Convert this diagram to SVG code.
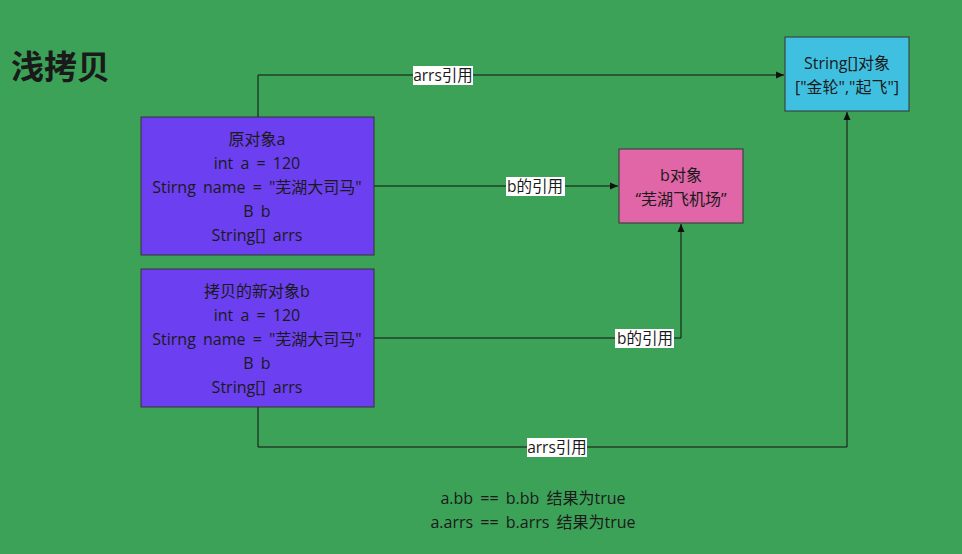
<svg xmlns="http://www.w3.org/2000/svg" width="962" height="554" viewBox="0 0 962 554">
<defs>
<marker id="arr" markerWidth="10" markerHeight="10" refX="9" refY="5" orient="auto" markerUnits="userSpaceOnUse">
<path d="M1,1.5 L9,5 L1,8.5 Z" fill="#111"/>
</marker>
<style>
text{font-family:"Open Sans","Noto Sans CJK SC",sans-serif;fill:#1a1a1a;text-anchor:middle;dominant-baseline:central}
.t{font-size:16px;word-spacing:3px}
.n{stroke:#333;stroke-width:1}
.c{fill:none;stroke:#111;stroke-width:1}
.lb{fill:#fff}
.l{font-size:15.5px}
</style>
</defs>
<rect width="962" height="554" fill="#3ca258"/>
<text x="11" y="65" style="font-family:'Noto Sans CJK SC',sans-serif;font-size:33px;font-weight:bold;text-anchor:start">浅拷贝</text>
<g id="connectors">
<path class="c" d="M258,117 V75 H784" marker-end="url(#arr)"/>
<path class="c" d="M374,186 H618" marker-end="url(#arr)"/>
<path class="c" d="M374,338 H681 V224" marker-end="url(#arr)"/>
<path class="c" d="M258,407 V447 H847 V112" marker-end="url(#arr)"/>
<rect class="lb" x="413" y="66" width="60" height="19"/>
<text class="l" x="443" y="75">arrs引用</text>
<rect class="lb" x="506" y="177" width="59" height="19"/>
<text class="l" x="535" y="186">b的引用</text>
<rect class="lb" x="615" y="329" width="59" height="19"/>
<text class="l" x="645" y="338">b的引用</text>
<rect class="lb" x="527" y="438" width="60" height="19"/>
<text class="l" x="557" y="447">arrs引用</text>
</g>
<g id="objA">
<rect class="n" x="141" y="117" width="233" height="138" fill="#6c40f0"/>
<text class="t" x="257" y="139">原对象a</text>
<text class="t" x="257" y="163">int a = 120</text>
<text class="t" x="257" y="187">Stirng name = "芜湖大司马"</text>
<text class="t" x="257" y="211">B b</text>
<text class="t" x="257" y="235">String[] arrs</text>
</g>
<g id="objB">
<rect class="n" x="141" y="269" width="233" height="138" fill="#6c40f0"/>
<text class="t" x="257" y="291">拷贝的新对象b</text>
<text class="t" x="257" y="315">int a = 120</text>
<text class="t" x="257" y="339">Stirng name = "芜湖大司马"</text>
<text class="t" x="257" y="363">B b</text>
<text class="t" x="257" y="387">String[] arrs</text>
</g>
<g id="bObj">
<rect class="n" x="619" y="149" width="124" height="74" fill="#e066a8"/>
<text class="t" x="681" y="175">b对象</text>
<text class="t" x="681" y="199">“芜湖飞机场”</text>
</g>
<g id="arrObj">
<rect class="n" x="785" y="37" width="124" height="74" fill="#40c0e0"/>
<text class="t" x="847" y="63">String[]对象</text>
<text class="t" x="847" y="87">["金轮","起飞"]</text>
</g>
<g id="note">
<text class="t" x="533" y="498">a.bb == b.bb 结果为true</text>
<text class="t" x="533" y="522">a.arrs == b.arrs 结果为true</text>
</g>
</svg>
